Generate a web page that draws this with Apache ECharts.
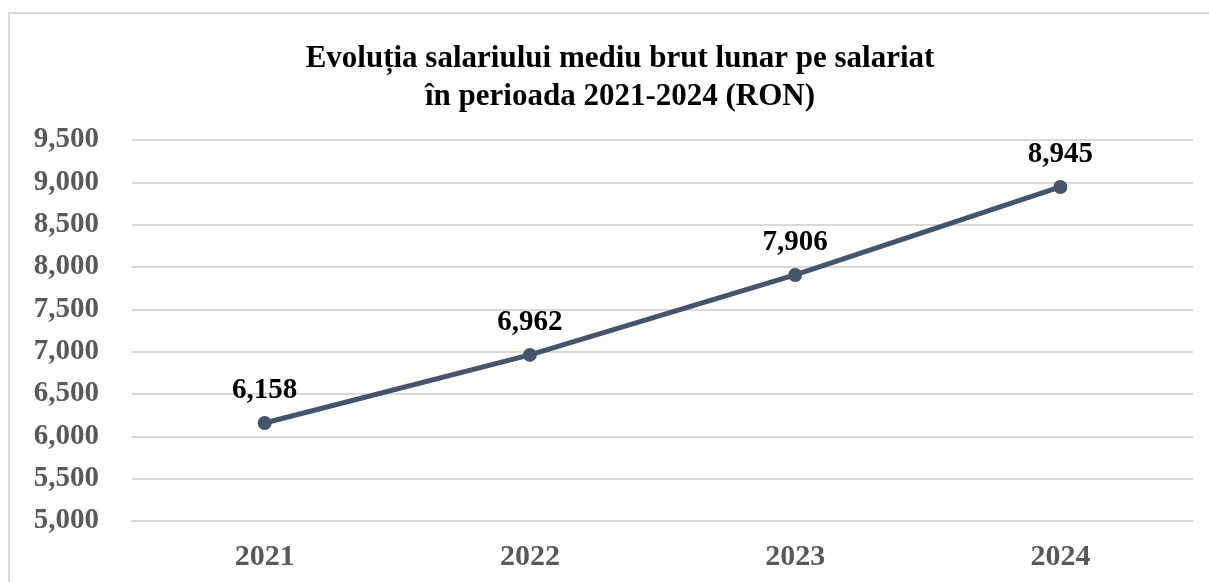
<!DOCTYPE html>
<html>
<head>
    <meta charset="utf-8">
    <title>Salariul mediu brut</title>
    <script src="https://cdn.jsdelivr.net/npm/echarts/dist/echarts.min.js"></script>
    <style>
        html, body { margin: 0; padding: 0; background: #fff; }
    </style>
</head>
<body>
    <div id="chart" style="width: 1209px; height: 582px;"></div>
    <script type="text/javascript">
        // date
        var years = ['2021', '2022', '2023', '2024'];
        var salaries = [6158, 6962, 7906, 8945];

        var serif = '"Liberation Serif", "Times New Roman", serif';
        var chart = echarts.init(document.getElementById('chart'));

        var option = {
            backgroundColor: '#fff',
            animation: false,
            title: {
                text: 'Evoluția salariului mediu brut lunar pe salariat\nîn perioada 2021-2024 (RON)',
                left: 615,
                top: 35,
                textAlign: 'center',
                textStyle: {
                    fontFamily: serif,
                    fontWeight: 'bold',
                    fontSize: 31,
                    lineHeight: 38,
                    color: '#000'
                }
            },
            graphic: [{
                type: 'rect',
                shape: {x: 9, y: 13, width: 1230, height: 600},
                style: {fill: 'none', stroke: '#d9d9d9', lineWidth: 2},
                silent: true
            }],
            grid: {left: 132, right: 16, top: 140, bottom: 61},
            xAxis: {
                type: 'category',
                data: years,
                boundaryGap: true,
                axisLine: {lineStyle: {color: '#d9d9d9', width: 2}},
                axisTick: {inside: true, length: 6, lineStyle: {color: '#d9d9d9', width: 2}},
                axisLabel: {
                    fontFamily: serif,
                    fontWeight: 'bold',
                    fontSize: 30,
                    color: '#595959',
                    margin: 21
                }
            },
            yAxis: {
                type: 'value',
                min: 5000,
                max: 9500,
                interval: 500,
                axisLine: {show: false},
                axisTick: {show: false},
                splitLine: {lineStyle: {color: '#d9d9d9', width: 2}},
                axisLabel: {
                    fontFamily: serif,
                    fontWeight: 'bold',
                    fontSize: 29,
                    color: '#595959',
                    margin: 33,
                    formatter: function (v) { return v.toLocaleString('en-US'); }
                }
            },
            series: [{
                type: 'line',
                data: salaries,
                symbol: 'circle',
                symbolSize: 14,
                itemStyle: {color: '#44546A'},
                lineStyle: {color: '#44546A', width: 5},
                label: {
                    show: true,
                    position: 'top',
                    distance: 11,
                    fontFamily: serif,
                    fontWeight: 'bold',
                    fontSize: 29,
                    color: '#000',
                    formatter: function (p) { return p.value.toLocaleString('en-US'); }
                }
            }]
        };

        chart.setOption(option);
    </script>
</body>
</html>
